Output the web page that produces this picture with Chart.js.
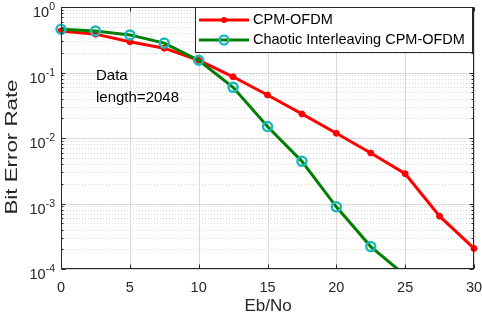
<!DOCTYPE html>
<html>
<head>
<meta charset="utf-8">
<script src="https://cdn.jsdelivr.net/npm/chart.js@4.4.0/dist/chart.umd.min.js"></script>
<style>
    html, body { margin: 0; padding: 0; background: #fff; }
    #wrap { width: 482px; height: 316px; }
</style>
</head>
<body>
<div id="wrap"><canvas id="berChart" width="482" height="316"></canvas></div>
<script>
// values
const ebNo = [0, 2.5, 5, 7.5, 10, 12.5, 15, 17.5, 20, 22.5, 25, 27.5, 30];
const berCpmOfdm = [0.43, 0.385, 0.294, 0.235, 0.154, 0.086, 0.0454, 0.0233, 0.0118, 0.0059, 0.00285, 0.00064, 0.000206];
const berChaotic = [0.458, 0.431, 0.375, 0.281, 0.154, 0.0593, 0.015, 0.0044, 0.00089, 0.00022, 0.00008];
const seriesNames = ['CPM-OFDM', 'Chaotic Interleaving CPM-OFDM'];
const xTicks = [0, 5, 10, 15, 20, 25, 30];
const yDecades = [-4, -3, -2, -1, 0];
const noteLines = ['Data', 'length=2048'];

const AXIS = '#262626';
const RED = '#ff0000';
const GREEN = '#007f00';
const CYAN = '#1fb8b8';

function toPoints(values) {
    return values.map((v, i) => ({ x: ebNo[i], y: v }));
}

function hLine(ctx, x1, x2, y) {
    ctx.beginPath();
    ctx.moveTo(x1, y);
    ctx.lineTo(x2, y);
    ctx.stroke();
}

function vLine(ctx, x, y1, y2) {
    ctx.beginPath();
    ctx.moveTo(x, y1);
    ctx.lineTo(x, y2);
    ctx.stroke();
}

const matlabAxes = {
    id: 'matlabAxes',
    beforeDatasetsDraw(chart) {
        const { ctx, chartArea: a, scales: { x, y } } = chart;
        ctx.save();
        ctx.lineWidth = 1;

        // minor grid (log), dotted
        ctx.strokeStyle = '#d6d6d6';
        ctx.setLineDash([1, 2]);
        yDecades.forEach(d => {
            for (let m = 2; m <= 9; m++) {
                const v = m * Math.pow(10, d);
                if (v >= 1) break;
                const py = Math.round(y.getPixelForValue(v)) + 0.5;
                hLine(ctx, a.left, a.right, py);
            }
        });

        // major grid
        ctx.setLineDash([]);
        ctx.strokeStyle = '#dadada';
        yDecades.forEach(d => {
            const py = Math.round(y.getPixelForValue(Math.pow(10, d))) + 0.5;
            hLine(ctx, a.left, a.right, py);
        });
        xTicks.forEach(t => {
            const px = Math.round(x.getPixelForValue(t)) + 0.5;
            vLine(ctx, px, a.top, a.bottom);
        });
        ctx.restore();
    },
    afterDatasetsDraw(chart) {
        const { ctx, chartArea: a, scales: { x, y } } = chart;
        ctx.save();
        ctx.strokeStyle = AXIS;
        ctx.lineWidth = 1;

        const L = Math.round(a.left) + 0.5, R = Math.round(a.right) - 0.5;
        const T = Math.round(a.top) + 0.5, B = Math.round(a.bottom) - 0.5;
        ctx.strokeRect(L, T, R - L, B - T);

        // tick marks (inside)
        xTicks.forEach(t => {
            const px = Math.round(x.getPixelForValue(t)) + 0.5;
            vLine(ctx, px, B, B - 4);
            vLine(ctx, px, T, T + 4);
        });
        yDecades.forEach(d => {
            const py = Math.round(y.getPixelForValue(Math.pow(10, d))) + 0.5;
            hLine(ctx, L, L + 4, py);
            hLine(ctx, R, R - 4, py);
            for (let m = 2; m <= 9 && d < 0; m++) {
                const pm = Math.round(y.getPixelForValue(m * Math.pow(10, d))) + 0.5;
                hLine(ctx, L, L + 2, pm);
                hLine(ctx, R, R - 2, pm);
            }
        });

        // x tick labels
        ctx.fillStyle = AXIS;
        ctx.font = '14.5px "Liberation Sans", Arial, sans-serif';
        ctx.textAlign = 'center';
        ctx.textBaseline = 'alphabetic';
        xTicks.forEach(t => {
            ctx.fillText(String(t), x.getPixelForValue(t), a.bottom + 23);
        });

        // y tick labels 10^d
        yDecades.forEach(d => {
            const py = y.getPixelForValue(Math.pow(10, d));
            const exp = d === 0 ? '0' : '-' + Math.abs(d);
            ctx.font = '10.5px "Liberation Sans", Arial, sans-serif';
            const ew = ctx.measureText(exp).width;
            ctx.textAlign = 'right';
            ctx.fillText(exp, 55, py + 3);
            ctx.font = '14.5px "Liberation Sans", Arial, sans-serif';
            ctx.fillText('10', 55 - ew, py + 10);
        });

        // axis titles
        ctx.font = '17px "Liberation Sans", Arial, sans-serif';
        ctx.textAlign = 'center';
        ctx.fillText('Eb/No', 268, 311);

        ctx.save();
        ctx.translate(17, 147);
        ctx.rotate(-Math.PI / 2);
        ctx.font = '16px "Liberation Sans", Arial, sans-serif';
        const tw = ctx.measureText('Bit Error Rate').width;
        ctx.scale(135 / tw, 1);
        ctx.fillText('Bit Error Rate', 0, 0);
        ctx.restore();

        // note text
        ctx.font = '15px "Liberation Sans", Arial, sans-serif';
        ctx.textAlign = 'left';
        ctx.fillStyle = '#000';
        ctx.fillText(noteLines[0], 96, 80);
        ctx.fillText(noteLines[1], 96, 102);

        // legend
        const lx = 195.5, ly = 7.5, lw = 277, lh = 45;
        ctx.fillStyle = '#fff';
        ctx.fillRect(lx, ly, lw, lh);
        ctx.strokeStyle = AXIS;
        ctx.strokeRect(lx, ly, lw, lh);
        const rows = [20, 40];
        ctx.lineWidth = 3;
        ctx.strokeStyle = RED;
        hLine(ctx, 199, 249, rows[0]);
        ctx.fillStyle = RED;
        ctx.beginPath();
        ctx.arc(224, rows[0], 3, 0, Math.PI * 2);
        ctx.fill();
        ctx.strokeStyle = GREEN;
        hLine(ctx, 199, 249, rows[1]);
        ctx.lineWidth = 2.5;
        ctx.strokeStyle = CYAN;
        ctx.beginPath();
        ctx.arc(224, rows[1], 4.5, 0, Math.PI * 2);
        ctx.stroke();

        ctx.fillStyle = '#000';
        ctx.font = '14.5px "Liberation Sans", Arial, sans-serif';
        ctx.textBaseline = 'middle';
        ctx.fillText(seriesNames[0], 253, rows[0]);
        ctx.fillText(seriesNames[1], 253, rows[1]);
        ctx.restore();
    }
};

new Chart(document.getElementById('berChart'), {
    type: 'line',
    data: {
        datasets: [{
            label: seriesNames[0],
            data: toPoints(berCpmOfdm),
            borderColor: RED,
            backgroundColor: RED,
            borderWidth: 3,
            pointRadius: 3,
            pointBackgroundColor: RED,
            pointBorderColor: RED,
            pointBorderWidth: 1,
            tension: 0,
            order: 1
        }, {
            label: seriesNames[1],
            data: toPoints(berChaotic),
            borderColor: GREEN,
            backgroundColor: GREEN,
            borderWidth: 3,
            pointRadius: 4.5,
            pointBackgroundColor: 'rgba(0,0,0,0)',
            pointBorderColor: CYAN,
            pointBorderWidth: 2.5,
            tension: 0,
            order: 0
        }]
    },
    options: {
        responsive: false,
        animation: false,
        devicePixelRatio: 1,
        layout: { padding: { left: 61, right: 8, top: 6, bottom: 47 } },
        clip: { left: 6, top: 6, right: 6, bottom: 0 },
        scales: {
            x: { type: 'linear', min: 0, max: 30, display: false },
            y: { type: 'logarithmic', min: 1e-4, max: 1, display: false }
        },
        plugins: {
            legend: { display: false },
            tooltip: { enabled: false }
        }
    },
    plugins: [matlabAxes]
});
</script>
</body>
</html>
